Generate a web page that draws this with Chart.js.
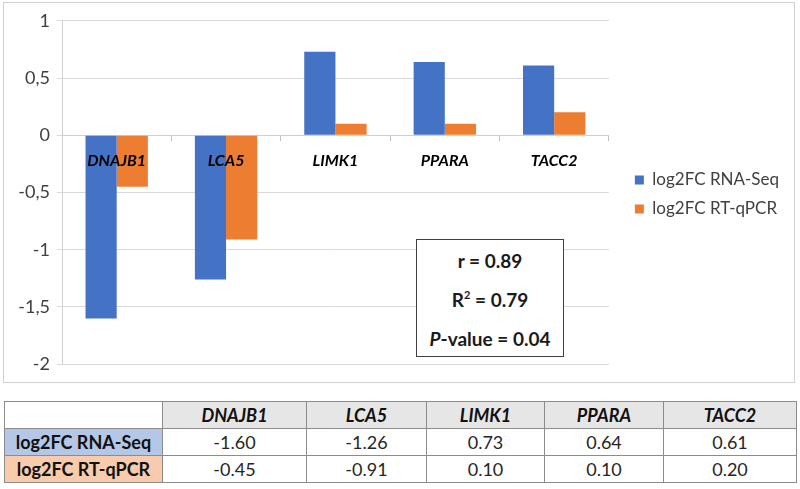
<!DOCTYPE html>
<html>
<head>
<meta charset="utf-8">
<script src="https://cdn.jsdelivr.net/npm/chart.js@4"></script>
<style>
  body { margin: 0; background: #fff; font-family: Lato, 'Open Sans', sans-serif; }
  #wrap { position: absolute; left: 3px; top: 2px; width: 790px; height: 379px; border: 1px solid #d0d0d0; }
  #stats {
    position: absolute; left: 412px; top: 236px; width: 148px; height: 118px;
    box-sizing: border-box; border: 1px solid #404040; background: #fff;
    text-align: center; font-weight: bold; font-size: 19px; color: #1a1a1a;
    line-height: 39px; padding-top: 1px;
  }
  #stats sup { font-size: 11px; line-height: 0; vertical-align: 8px; }
  #tbl { position: absolute; left: 4px; top: 401px; border-collapse: collapse; font-size: 18px; color: #262626; }
  #tbl td { border: 1px solid #8c8c8c; text-align: center; padding: 0; height: 26px; }
  #tbl tr.head td { background: #e7e6e6; font-weight: bold; font-style: italic; color: #111; }
  #tbl tr.head td:first-child { background: #fff; }
  #tbl td.rowname { font-weight: bold; color: #111; }
</style>
</head>
<body>
<div id="wrap">
  <canvas id="chart"></canvas>
  <div id="stats">
    <div>r = 0.89</div>
    <div>R<sup>2</sup> = 0.79</div>
    <div><i>P</i>-value = 0.04</div>
  </div>
</div>
<table id="tbl"></table>
<script>
const genes = ['DNAJB1', 'LCA5', 'LIMK1', 'PPARA', 'TACC2']
const rnaSeq = [-1.60, -1.26, 0.73, 0.64, 0.61]
const rtQpcr = [-0.45, -0.91, 0.10, 0.10, 0.20]
const seriesNames = ['log2FC RNA-Seq', 'log2FC RT-qPCR']
const seriesColors = ['#4472c4', '#ed7d31']
const rowColors = ['#b4c7e7', '#f8cbad']
const yMin = -2
const yMax = 1
const yStep = 0.5

// table under the chart
const colWidths = [157, 143, 119, 117, 118, 132]
const tbl = document.getElementById('tbl')
let html = '<tr class="head"><td style="width:' + colWidths[0] + 'px"></td>'
genes.forEach((g, i) => { html += '<td style="width:' + colWidths[i + 1] + 'px">' + g + '</td>' })
html += '</tr>'
;[rnaSeq, rtQpcr].forEach((vals, r) => {
  html += '<tr><td class="rowname" style="background:' + rowColors[r] + '">' + seriesNames[r] + '</td>'
  vals.forEach(v => { html += '<td>' + v.toFixed(2) + '</td>' })
  html += '</tr>'
})
tbl.innerHTML = html

// push legend a bit away from the plot area
const gap = 14
const legendGap = {
  id: 'legendGap',
  beforeLayout (chart) {
    const legend = chart.legend
    if (legend && !legend._gapped) {
      const fit = legend.fit
      legend.fit = function () { fit.call(this); this.width += gap }
      legend._gapped = true
    }
  },
  afterLayout (chart) {
    if (chart.legend) chart.legend.left += gap
  }
}

const ctx = document.getElementById('chart')
new Chart(ctx, { // eslint-disable-line
  type: 'bar',
  data: {
    labels: genes,
    datasets: [
      { label: seriesNames[0], data: rnaSeq, backgroundColor: seriesColors[0] },
      { label: seriesNames[1], data: rtQpcr, backgroundColor: seriesColors[1] }
    ]
  },
  options: {
    responsive: true,
    maintainAspectRatio: false,
    animation: false,
    layout: { padding: { top: 13, bottom: 9, left: 0, right: 5 } },
    datasets: { bar: { categoryPercentage: 0.57, barPercentage: 1.0 } },
    plugins: {
      tooltip: { enabled: false },
      legend: {
        position: 'right',
        labels: {
          boxWidth: 9,
          boxHeight: 9,
          padding: 12,
          color: '#404040',
          font: { family: 'Lato', size: 17 }
        }
      }
    },
    scales: {
      x: {
        position: { y: 0 },
        grid: { drawOnChartArea: false, drawTicks: true, tickLength: 5, color: '#bfbfbf', offset: true },
        border: { display: true, color: '#d0d0d0' },
        ticks: {
          z: 1, // labels sit on top of the bars
          color: '#000',
          padding: 11,
          font: { family: 'Lato', size: 16, weight: 'bold', style: 'italic' }
        }
      },
      y: {
        min: yMin,
        max: yMax,
        afterFit (scale) { scale.width = 58 },
        grid: { color: '#d9d9d9', tickLength: 5 },
        border: { display: true, color: '#d0d0d0' },
        ticks: {
          stepSize: yStep,
          padding: 7,
          color: '#404040',
          font: { family: 'Lato', size: 18 },
          callback: v => String(v).replace('.', ',')
        }
      }
    }
  },
  plugins: [legendGap]
})
</script>
</body>
</html>
